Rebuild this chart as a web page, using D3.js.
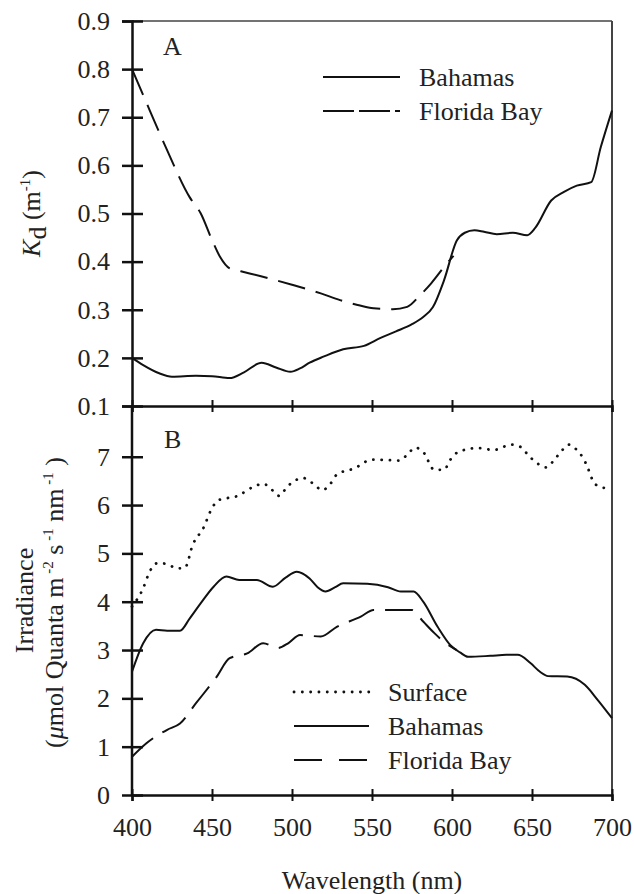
<!DOCTYPE html>
<html>
<head>
<meta charset="utf-8">
<script src="https://cdn.jsdelivr.net/npm/d3@7"></script>
<style>
  body { margin: 0; background: #fff; }
</style>
</head>
<body>
<svg width="634" height="894"></svg>
<script>
// ---- data: [wavelength nm, value] ----
const xTicks = [400, 450, 500, 550, 600, 650, 700];
const kdTicks = [0.1, 0.2, 0.3, 0.4, 0.5, 0.6, 0.7, 0.8, 0.9];
const irrTicks = [0, 1, 2, 3, 4, 5, 6, 7];

const kdBahamas = [[400,0.200],[407,0.185],[417,0.168],[425,0.161],[440,0.163],[450,0.162],[461,0.158],[470,0.170],[481,0.190],[490,0.180],[499,0.171],[505,0.178],[511,0.190],[520,0.203],[532,0.218],[545,0.225],[555,0.241],[565,0.255],[575,0.270],[582,0.285],[588,0.305],[595,0.361],[603,0.444],[608,0.460],[614,0.465],[620,0.462],[628,0.457],[638,0.460],[647,0.455],[652,0.470],[662,0.527],[670,0.545],[678,0.558],[687,0.565],[693,0.638],[700,0.714]];
const kdFlorida = [[400,0.800],[411,0.715],[422,0.631],[436,0.534],[443,0.500],[450,0.445],[455,0.410],[461,0.386],[468,0.380],[480,0.370],[500,0.352],[518,0.334],[530,0.320],[541,0.310],[551,0.303],[563,0.301],[572,0.306],[580,0.330],[587,0.355],[597,0.397],[601,0.412]];

const irrSurface = [[400,3.90],[407,4.28],[411,4.62],[416,4.80],[422,4.78],[428,4.69],[433,4.70],[438,5.18],[445,5.55],[449,5.87],[454,6.10],[466,6.19],[476,6.38],[482,6.44],[488,6.30],[492,6.19],[497,6.38],[507,6.56],[513,6.45],[519,6.31],[524,6.44],[528,6.63],[539,6.76],[550,6.94],[560,6.93],[567,6.92],[572,7.04],[577,7.19],[582,7.10],[589,6.73],[595,6.73],[599,6.94],[604,7.10],[616,7.18],[626,7.14],[637,7.25],[643,7.20],[648,7.02],[653,6.87],[659,6.78],[664,6.94],[668,7.10],[673,7.25],[678,7.14],[682,6.97],[685,6.76],[687,6.58],[690,6.42],[696,6.35]];
const irrBahamas = [[400,2.55],[407,3.14],[415,3.42],[422,3.40],[430,3.40],[436,3.65],[443,3.97],[451,4.31],[459,4.52],[467,4.45],[478,4.45],[488,4.31],[496,4.50],[503,4.62],[511,4.48],[516,4.30],[521,4.21],[527,4.30],[532,4.38],[547,4.37],[560,4.30],[568,4.21],[576,4.21],[582,4.00],[591,3.48],[599,3.10],[605,2.95],[610,2.86],[624,2.88],[634,2.90],[641,2.90],[649,2.73],[655,2.55],[660,2.46],[672,2.45],[683,2.28],[691,1.97],[700,1.59]];
const irrFlorida = [[400,0.79],[409,1.07],[422,1.35],[430,1.48],[440,1.90],[453,2.45],[461,2.83],[472,2.93],[482,3.14],[491,3.04],[498,3.15],[505,3.31],[518,3.28],[528,3.48],[543,3.69],[551,3.83],[568,3.83],[575,3.83],[582,3.59],[589,3.35],[595,3.17],[603,3.00]];

const FONT = "'Liberation Serif', 'Times New Roman', Times, serif";
const svg = d3.select("svg");
const left = 132, right = 612;
const aTop = 21, mid = 406, bBottom = 795;
const fs = 26;
const ink = "#222";

const xScale = d3.scaleLinear().domain([400, 700]).range([left, right]);
const yA = d3.scaleLinear().domain([0.1, 0.9]).range([mid, aTop]);
const yB = d3.scaleLinear().domain([0, 8.05]).range([bBottom, mid]);

const dashed = "28,11";

// text helper so every label gets the serif face
const label = (x, y) => svg.append("text").attr("x", x).attr("y", y)
    .attr("font-size", fs).attr("fill", ink).style("font-family", FONT);

// frame (right + top, thin gray)
svg.append("line").attr("x1", left).attr("x2", right).attr("y1", aTop).attr("y2", aTop)
   .attr("stroke", "#444").attr("stroke-width", 1.5);
svg.append("line").attr("x1", right).attr("x2", right).attr("y1", aTop).attr("y2", bBottom)
   .attr("stroke", "#444").attr("stroke-width", 2);

// y axes
const drawY = (scale, ticks, fmt) => {
    const g = svg.append("g")
        .attr("transform", `translate(${left},0)`)
        .call(d3.axisLeft(scale).tickValues(ticks).tickFormat(fmt).tickSizeOuter(0).tickSize(10).tickPadding(12));
    g.select(".domain").attr("stroke", "#111").attr("stroke-width", 2.5);
    g.selectAll(".tick line").attr("x1", 11).attr("stroke", "#111").attr("stroke-width", 2.5);
    g.selectAll(".tick text").attr("fill", ink).attr("font-size", fs).style("font-family", FONT);
    return g;
};
drawY(yA, kdTicks, d3.format(".1f"));
const gB = drawY(yB, irrTicks, d3.format("d"));
gB.select(".domain").remove();
svg.append("line").attr("x1", left).attr("x2", left).attr("y1", mid).attr("y2", bBottom)
   .attr("stroke", "#111").attr("stroke-width", 2.5);

// x axes
const drawX = (y, labels) => {
    const g = svg.append("g")
        .attr("transform", `translate(0,${y})`)
        .call(d3.axisBottom(xScale).tickValues(xTicks).tickSizeOuter(0).tickSize(6).tickPadding(labels ? 17 : 0)
              .tickFormat(labels ? d3.format("d") : ""));
    g.select(".domain").attr("stroke", "#111").attr("stroke-width", 2.5);
    g.selectAll(".tick line").attr("y1", -6).attr("stroke", "#111").attr("stroke-width", 2);
    g.selectAll(".tick text").attr("fill", ink).attr("font-size", fs).style("font-family", FONT);
};
drawX(mid, false);
drawX(bBottom, true);

// curves
const drawLine = (data, yScale, dash, width) => {
    const line = d3.line().x(d => xScale(d[0])).y(d => yScale(d[1])).curve(d3.curveMonotoneX);
    const p = svg.append("path").datum(data).attr("d", line)
        .attr("fill", "none").attr("stroke", "#111").attr("stroke-width", width);
    if (dash) p.attr("stroke-dasharray", dash);
    return p;
};
drawLine(kdFlorida, yA, dashed, 2);
drawLine(kdBahamas, yA, null, 2);
drawLine(irrSurface, yB, "0.1,8.2", 2.8).attr("stroke-linecap", "round");
drawLine(irrFlorida, yB, dashed, 2);
drawLine(irrBahamas, yB, null, 2);

// panel letters
label(163, 55).text("A");
label(164, 448).text("B");

// legends
const legend = (items, x1, x2, tx, y0, step) => {
    items.forEach((it, i) => {
        const y = y0 + i * step;
        const l = svg.append("line").attr("x1", x1).attr("x2", x2).attr("y1", y).attr("y2", y)
            .attr("stroke", "#111").attr("stroke-width", it.w || 2);
        if (it.dash) l.attr("stroke-dasharray", it.dash);
        if (it.cap) l.attr("stroke-linecap", it.cap);
        label(tx, y + 9).text(it.name);
    });
};
legend([{name: "Bahamas"}, {name: "Florida Bay", dash: "31,5"}], 323, 400, 419, 77, 34);
legend([{name: "Surface", dash: "0.1,8.2", w: 2.8, cap: "round"},
        {name: "Bahamas"},
        {name: "Florida Bay", dash: "28,17"}], 294, 369, 388, 692, 34);

// axis titles
label((left + right) / 2, 889).attr("text-anchor", "middle").text("Wavelength (nm)");

const kd = label(0, 0).attr("transform", `translate(40,${(aTop + mid) / 2}) rotate(-90)`)
   .attr("text-anchor", "middle");
kd.append("tspan").attr("font-style", "italic").text("K");
kd.append("tspan").attr("dy", 6).text("d");
kd.append("tspan").attr("dy", -6).text(" (m");
kd.append("tspan").attr("dy", -10).attr("font-size", 15).text("-1");
kd.append("tspan").attr("dy", 10).text(")");

const cB = (mid + bBottom) / 2;
label(0, 0).attr("transform", `translate(33,${cB}) rotate(-90)`)
   .attr("text-anchor", "middle").text("Irradiance");
const u = label(0, 0).attr("transform", `translate(63,${cB + 2}) rotate(-90)`)
   .attr("text-anchor", "middle");
u.append("tspan").text("(");
u.append("tspan").attr("font-style", "italic").text("\u03bc");
u.append("tspan").text("mol Quanta m");
u.append("tspan").attr("dy", -10).attr("font-size", 15).text(" -2");
u.append("tspan").attr("dy", 10).text(" s");
u.append("tspan").attr("dy", -10).attr("font-size", 15).text(" -1");
u.append("tspan").attr("dy", 10).text(" nm");
u.append("tspan").attr("dy", -10).attr("font-size", 15).text(" -1");
u.append("tspan").attr("dy", 10).text(" )");
</script>
</body>
</html>
